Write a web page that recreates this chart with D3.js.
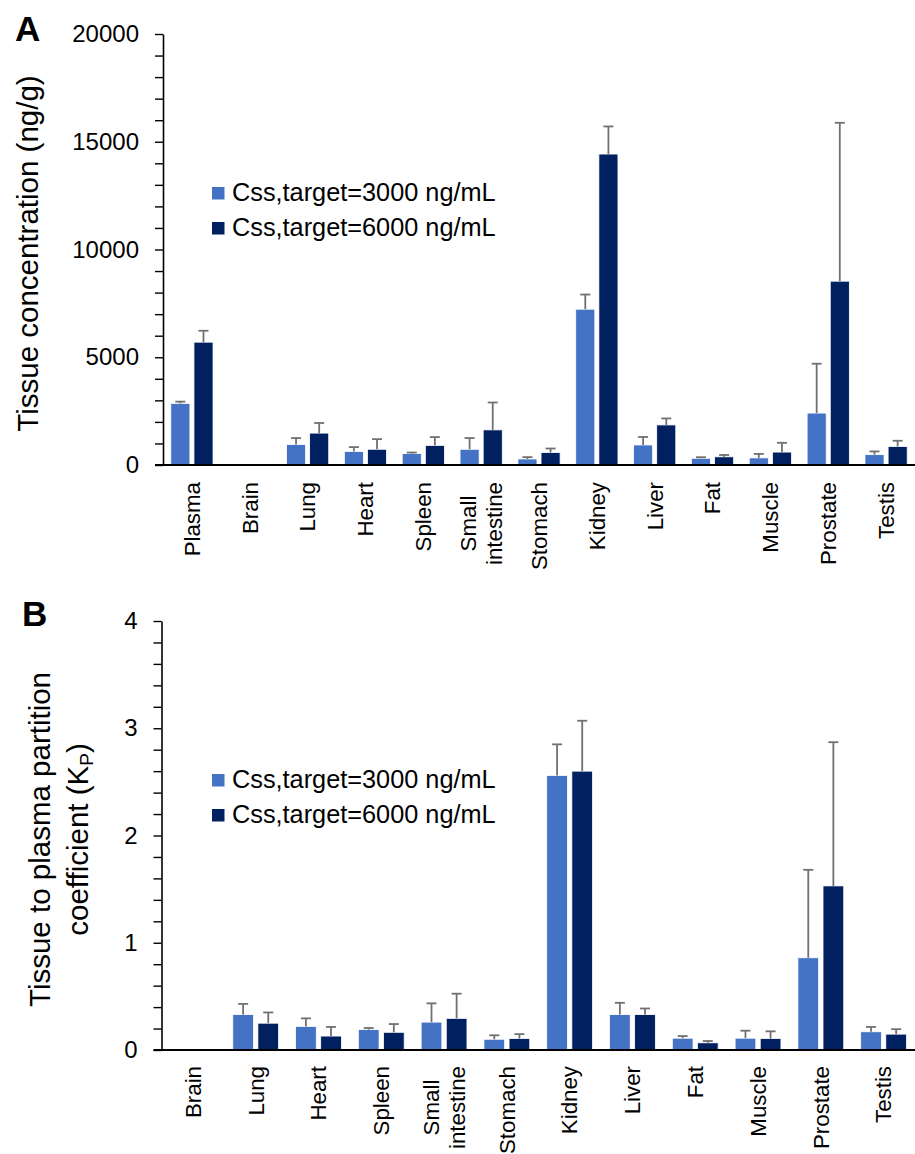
<!DOCTYPE html>
<html>
<head>
<meta charset="utf-8">
<script src="https://cdn.jsdelivr.net/npm/d3@7"></script>
<style>
  body { margin: 0; background: #fff; }
  svg text { font-family: "Liberation Sans", Arial, sans-serif; fill: #000; }
</style>
</head>
<body>
<svg id="chart" width="915" height="1154"></svg>
<script>
// Panel A: tissue concentration (ng/g)
var categoriesA = ["Plasma", "Brain", "Lung", "Heart", "Spleen", "Small intestine", "Stomach", "Kidney", "Liver", "Fat", "Muscle", "Prostate", "Testis"];
var concLow     = [2860, 0, 950, 630, 530, 730, 280, 7230, 930, 310, 330, 2410, 480];
var concLowErr  = [80, 0, 300, 200, 50, 520, 85, 680, 370, 50, 185, 2290, 150];
var concHigh    = [5700, 0, 1480, 730, 910, 1630, 580, 14430, 1860, 380, 600, 8530, 860];
var concHighErr = [530, 0, 470, 470, 385, 1270, 185, 1280, 300, 85, 430, 7350, 265];
var ticksA = [0, 5000, 10000, 15000, 20000];

// Panel B: tissue to plasma partition coefficient
var categoriesB = ["Brain", "Lung", "Heart", "Spleen", "Small intestine", "Stomach", "Kidney", "Liver", "Fat", "Muscle", "Prostate", "Testis"];
var kpLow     = [0, 0.33, 0.22, 0.19, 0.26, 0.10, 2.56, 0.33, 0.11, 0.11, 0.86, 0.17];
var kpLowErr  = [0, 0.10, 0.075, 0.015, 0.175, 0.037, 0.29, 0.11, 0.02, 0.07, 0.82, 0.045];
var kpHigh    = [0, 0.25, 0.13, 0.165, 0.295, 0.107, 2.60, 0.33, 0.067, 0.107, 1.53, 0.148];
var kpHighErr = [0, 0.10, 0.085, 0.077, 0.23, 0.041, 0.47, 0.057, 0.017, 0.067, 1.34, 0.046];
var ticksB = [0, 1, 2, 3, 4];

var seriesNames = ["Css,target=3000 ng/mL", "Css,target=6000 ng/mL"];
var colors = ["#4472c4", "#002060"];

var svg = d3.select("#chart");

function drawPanel(o) {
  var g = svg.append("g");

  var x = d3.scaleBand().domain(o.categories).range([o.left, o.right]);
  var x1 = d3.scaleBand().domain([0, 1]).range([0, x.bandwidth()])
    .paddingInner(0.175).paddingOuter(0.3375);
  var y = d3.scaleLinear().domain([0, o.max]).range([o.bottom, o.top]);

  // bars
  var rows = [];
  o.categories.forEach(function(c, i) {
    o.values.forEach(function(vals, s) {
      rows.push({cat: c, s: s, v: vals[i], e: o.errors[s][i]});
    });
  });
  var shown = rows.filter(function(d) { return d.v > 0; });
  g.selectAll("rect.bar").data(shown)
    .enter().append("rect")
    .attr("class", "bar")
    .attr("x", function(d) { return x(d.cat) + x1(d.s); })
    .attr("width", x1.bandwidth())
    .attr("y", function(d) { return y(d.v); })
    .attr("height", function(d) { return y(0) - y(d.v); })
    .attr("fill", function(d) { return colors[d.s]; })
    .attr("stroke", "#ffffff")
    .attr("stroke-width", 0.8);

  // upper error bars only
  var eb = g.selectAll("g.err").data(shown)
    .enter().append("g").attr("class", "err")
    .attr("stroke", "#707070").attr("stroke-width", 1.8);
  eb.append("line")
    .attr("x1", function(d) { return x(d.cat) + x1(d.s) + x1.bandwidth() / 2; })
    .attr("x2", function(d) { return x(d.cat) + x1(d.s) + x1.bandwidth() / 2; })
    .attr("y1", function(d) { return y(d.v); })
    .attr("y2", function(d) { return y(d.v + d.e); });
  eb.append("line")
    .attr("x1", function(d) { return x(d.cat) + x1(d.s) + x1.bandwidth() / 2 - 5; })
    .attr("x2", function(d) { return x(d.cat) + x1(d.s) + x1.bandwidth() / 2 + 5; })
    .attr("y1", function(d) { return y(d.v + d.e); })
    .attr("y2", function(d) { return y(d.v + d.e); });

  // y axis, labelled majors plus unlabelled minors
  var yAxis = d3.axisLeft(y)
    .tickValues(d3.range(0, o.max + o.minor / 2, o.minor))
    .tickFormat(function(d) { return o.ticks.some(function(t) { return Math.abs(t - d) < 1e-9; }) ? d : ""; })
    .tickSize(8).tickSizeOuter(0).tickPadding(16);
  var ya = g.append("g").attr("transform", "translate(" + o.left + ",0)").call(yAxis);
  ya.select(".domain").attr("stroke", "#000").attr("stroke-width", 1.6);
  ya.selectAll(".tick line").attr("stroke", "#000").attr("stroke-width", 1.4);
  ya.selectAll(".tick text").attr("font-size", 24).attr("fill", "#000");

  // x axis line
  g.append("line")
    .attr("x1", o.left - 8).attr("x2", o.right)
    .attr("y1", y(0)).attr("y2", y(0))
    .attr("stroke", "#000").attr("stroke-width", 2);

  // rotated category labels, lines centred in a block hung from the top
  o.categories.forEach(function(c) {
    var words = c === "Small intestine" ? ["Small", "intestine"] : [c];
    var cx = x(c) + x.bandwidth() / 2;
    var texts = words.map(function(w, i) {
      return g.append("text")
        .attr("font-size", 22.3)
        .attr("dy", "0.35em")
        .text(w)
        .attr("data-off", (i - (words.length - 1) / 2) * 26);
    });
    var maxLen = d3.max(texts, function(t) { return t.node().getComputedTextLength(); });
    texts.forEach(function(t) {
      var off = +t.attr("data-off");
      t.attr("text-anchor", "middle")
        .attr("transform", "translate(" + (cx + off) + "," + (y(0) + o.labelGap + maxLen / 2) + ") rotate(-90)");
    });
  });

  // legend
  var lg = g.append("g");
  seriesNames.forEach(function(n, i) {
    lg.append("rect")
      .attr("x", 212).attr("y", o.legendY + i * 35 - 14)
      .attr("width", 12.5).attr("height", 12.5)
      .attr("fill", colors[i]);
    lg.append("text")
      .attr("x", 232).attr("y", o.legendY + i * 35)
      .attr("font-size", 25.3)
      .text(n);
  });

  // panel letter
  g.append("text")
    .attr("x", o.letterX).attr("y", o.letterY)
    .attr("font-size", 35).attr("font-weight", "bold")
    .text(o.letter);

  // y title
  var cy = (o.top + o.bottom) / 2 + 4;
  var yt = g.append("text")
    .attr("transform", "translate(0," + cy + ") rotate(-90)")
    .attr("text-anchor", "middle")
    .attr("font-size", 29.5);
  o.title(yt);
}

drawPanel({
  letter: "A", letterX: 15, letterY: 41,
  categories: categoriesA,
  values: [concLow, concHigh],
  errors: [concLowErr, concHighErr],
  max: 20000, minor: 1000, ticks: ticksA,
  left: 163, right: 915, top: 34, bottom: 465,
  labelGap: 17, legendY: 201,
  title: function(t) {
    t.append("tspan").attr("x", 0).attr("y", 38).text("Tissue concentration (ng/g)");
  }
});

drawPanel({
  letter: "B", letterX: 22, letterY: 626,
  categories: categoriesB,
  values: [kpLow, kpHigh],
  errors: [kpLowErr, kpHighErr],
  max: 4, minor: 0.2, ticks: ticksB,
  left: 161.5, right: 915, top: 621, bottom: 1050,
  labelGap: 16, legendY: 788,
  title: function(t) {
    t.append("tspan").attr("x", 0).attr("y", 50).text("Tissue to plasma partition");
    t.append("tspan").attr("x", 0).attr("y", 88).text("coefficient (K");
    t.append("tspan").attr("font-size", 19).attr("dy", 5).text("P");
    t.append("tspan").attr("dy", -5).text(")");
  }
});
</script>
</body>
</html>
